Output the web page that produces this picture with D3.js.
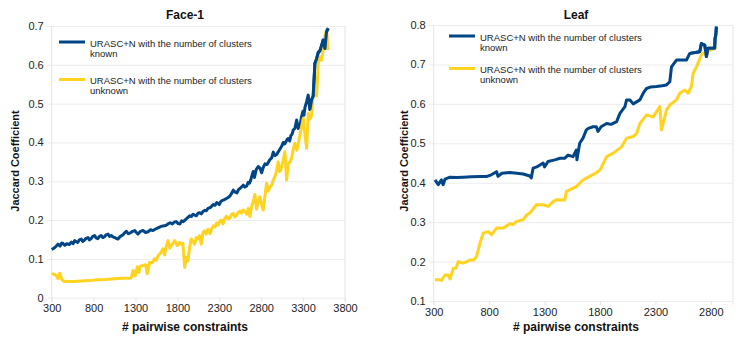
<!DOCTYPE html>
<html>
<head>
<meta charset="utf-8">
<script src="https://cdn.jsdelivr.net/npm/d3@7/dist/d3.min.js"></script>
<style>
  body { margin: 0; background: #fff; }
  svg { font-family: "Liberation Sans", Arial, sans-serif; }
  .tick text { fill: #222; font-size: 11px; }
  .title, .axis-label { font-weight: bold; fill: #111; font-size: 12px; }
  .y-label { font-size: 11px; }
  .legend text { font-size: 9.5px; fill: #222; }
</style>
</head>
<body>
<svg width="747" height="342"></svg>
<script>
// Face-1 data: [# pairwise constraints, Jaccard coefficient]
const faceKnown = [
  [300,0.124],[330,0.128],[355,0.133],[375,0.138],[400,0.133],[420,0.141],[435,0.14],[455,0.135],[480,0.139],
  [510,0.137],[534,0.143],[555,0.139],[574,0.147],[595,0.144],[610,0.142],[630,0.149],[653,0.151],[670,0.145],
  [690,0.148],[710,0.153],[733,0.155],[750,0.149],[770,0.152],[790,0.158],[813,0.16],[830,0.154],[850,0.152],
  [870,0.158],[890,0.16],[910,0.155],[930,0.157],[950,0.162],[972,0.164],[990,0.158],[1010,0.16],[1030,0.157],
  [1052,0.155],[1070,0.153],[1091,0.151],[1120,0.158],[1151,0.162],[1170,0.167],[1190,0.171],[1215,0.165],
  [1240,0.167],[1265,0.171],[1290,0.173],[1310,0.168],[1330,0.164],[1360,0.171],[1389,0.173],[1420,0.168],
  [1450,0.170],[1480,0.175],[1508,0.173],[1540,0.177],[1568,0.18],[1600,0.183],[1628,0.185],[1660,0.186],
  [1688,0.19],[1715,0.193],[1740,0.19],[1765,0.195],[1786,0.196],[1810,0.191],[1830,0.19],[1850,0.198],
  [1870,0.196],[1890,0.2],[1906,0.203],[1926,0.207],[1946,0.211],[1966,0.209],[1986,0.215],[2005,0.213],
  [2025,0.211],[2045,0.217],[2066,0.219],[2085,0.216],[2105,0.222],[2125,0.225],[2144,0.224],[2165,0.23],
  [2190,0.232],[2210,0.236],[2228,0.24],[2250,0.238],[2268,0.245],[2285,0.243],[2300,0.240],[2315,0.247],
  [2332,0.25],[2355,0.252],[2380,0.255],[2405,0.258],[2427,0.262],[2445,0.268],[2467,0.277],[2490,0.272],
  [2511,0.27],[2530,0.279],[2550,0.282],[2570,0.286],[2586,0.29],[2605,0.285],[2627,0.288],[2645,0.297],
  [2660,0.295],[2675,0.303],[2686,0.312],[2705,0.325],[2720,0.31],[2740,0.33],[2765,0.338],[2785,0.334],
  [2805,0.322],[2825,0.336],[2845,0.345],[2870,0.343],[2904,0.356],[2925,0.36],[2944,0.375],[2965,0.366],
  [2988,0.37],[3015,0.38],[3044,0.39],[3063,0.4],[3080,0.396],[3095,0.402],[3110,0.408],[3123,0.41],
  [3140,0.404],[3155,0.418],[3170,0.422],[3182,0.432],[3202,0.436],[3223,0.458],[3242,0.436],[3262,0.442],
  [3280,0.465],[3298,0.48],[3310,0.47],[3322,0.49],[3342,0.505],[3361,0.522],[3381,0.484],[3402,0.51],
  [3421,0.52],[3441,0.604],[3461,0.615],[3481,0.632],[3501,0.636],[3521,0.65],[3540,0.664],[3560,0.642],
  [3580,0.686],[3600,0.694]
];
const faceUnknown = [
  [300,0.062],[330,0.06],[355,0.057],[375,0.049],[395,0.063],[423,0.046],[450,0.042],[494,0.042],[560,0.042],
  [653,0.043],[750,0.044],[852,0.046],[950,0.047],[1052,0.049],[1150,0.05],[1250,0.051],[1270,0.07],[1297,0.057],
  [1321,0.08],[1340,0.065],[1360,0.082],[1389,0.083],[1420,0.085],[1440,0.062],[1469,0.091],[1500,0.09],
  [1529,0.10],[1550,0.097],[1568,0.108],[1600,0.115],[1628,0.126],[1648,0.11],[1665,0.13],[1688,0.147],
  [1710,0.128],[1727,0.134],[1768,0.147],[1800,0.134],[1825,0.142],[1846,0.138],[1865,0.14],[1887,0.078],
  [1906,0.104],[1926,0.095],[1946,0.13],[1965,0.151],[1985,0.145],[2006,0.138],[2025,0.155],[2045,0.151],
  [2065,0.16],[2085,0.138],[2105,0.168],[2125,0.172],[2144,0.164],[2165,0.176],[2189,0.165],[2210,0.178],
  [2228,0.185],[2248,0.182],[2268,0.192],[2288,0.188],[2308,0.198],[2325,0.2],[2344,0.19],[2365,0.204],
  [2388,0.21],[2405,0.203],[2427,0.206],[2445,0.214],[2467,0.217],[2485,0.208],[2507,0.212],[2525,0.22],
  [2547,0.223],[2565,0.218],[2586,0.226],[2605,0.222],[2627,0.215],[2645,0.23],[2666,0.209],[2685,0.235],
  [2705,0.247],[2725,0.266],[2745,0.228],[2765,0.25],[2784,0.26],[2805,0.24],[2824,0.226],[2844,0.26],
  [2864,0.295],[2884,0.275],[2904,0.285],[2925,0.29],[2944,0.303],[2960,0.31],[2976,0.32],[3003,0.35],
  [3020,0.325],[3035,0.33],[3060,0.352],[3083,0.376],[3103,0.303],[3123,0.345],[3145,0.35],[3163,0.36],
  [3185,0.385],[3202,0.398],[3226,0.38],[3245,0.4],[3262,0.42],[3282,0.44],[3302,0.462],[3322,0.42],
  [3342,0.385],[3361,0.475],[3382,0.46],[3402,0.47],[3421,0.53],[3441,0.548],[3461,0.52],[3481,0.604],
  [3501,0.621],[3521,0.612],[3540,0.64],[3560,0.672],[3580,0.69],[3600,0.638]
];

// Leaf data
const leafKnown = [
  [312,0.407],[341,0.395],[370,0.407],[385,0.395],[402,0.409],[447,0.414],[507,0.413],[567,0.414],[640,0.415],
  [717,0.416],[780,0.416],[820,0.42],[867,0.428],[880,0.416],[915,0.424],[987,0.426],[1050,0.424],[1107,0.422],
  [1167,0.417],[1180,0.412],[1197,0.437],[1230,0.44],[1287,0.45],[1300,0.44],[1332,0.454],[1392,0.458],
  [1440,0.462],[1480,0.462],[1512,0.47],[1557,0.466],[1587,0.483],[1592,0.458],[1617,0.50],[1647,0.513],
  [1677,0.534],[1695,0.538],[1737,0.542],[1767,0.542],[1782,0.53],[1810,0.542],[1860,0.55],[1900,0.548],
  [1950,0.555],[1980,0.576],[2025,0.593],[2040,0.61],[2070,0.61],[2100,0.60],[2160,0.61],[2190,0.627],
  [2220,0.639],[2260,0.643],[2310,0.644],[2360,0.646],[2400,0.648],[2430,0.656],[2445,0.694],[2490,0.711],
  [2540,0.711],[2580,0.711],[2610,0.728],[2660,0.73],[2700,0.732],[2715,0.753],[2745,0.749],[2760,0.72],
  [2775,0.741],[2800,0.741],[2835,0.741],[2838,0.766],[2845,0.775],[2850,0.796]
];
const leafUnknown = [
  [312,0.154],[350,0.154],[370,0.152],[402,0.166],[430,0.166],[447,0.156],[477,0.183],[500,0.183],[522,0.20],
  [567,0.196],[600,0.2],[627,0.204],[660,0.204],[687,0.213],[717,0.247],[747,0.272],[792,0.276],[822,0.268],
  [867,0.285],[930,0.285],[987,0.296],[1017,0.294],[1047,0.302],[1107,0.306],[1137,0.318],[1167,0.323],
  [1227,0.344],[1287,0.344],[1332,0.34],[1377,0.352],[1407,0.357],[1482,0.356],[1497,0.378],[1527,0.382],
  [1587,0.39],[1647,0.407],[1707,0.416],[1760,0.424],[1800,0.432],[1860,0.466],[1920,0.475],[1995,0.491],
  [2040,0.513],[2100,0.517],[2130,0.525],[2160,0.55],[2220,0.572],[2280,0.567],[2340,0.593],[2355,0.534],
  [2400,0.584],[2430,0.597],[2490,0.61],[2520,0.627],[2565,0.635],[2595,0.627],[2625,0.644],[2640,0.677],
  [2670,0.694],[2715,0.724],[2730,0.728],[2790,0.736],[2835,0.741],[2850,0.745]
];

const faceXTicks = [300, 800, 1300, 1800, 2300, 2800, 3300, 3800];
const faceYTicks = [0, 0.1, 0.2, 0.3, 0.4, 0.5, 0.6, 0.7];
const faceYLabels = ["0", "0.1", "0.2", "0.3", "0.4", "0.5", "0.6", "0.7"];
const leafXTicks = [300, 800, 1300, 1800, 2300, 2800];
const leafYTicks = [0.1, 0.2, 0.3, 0.4, 0.5, 0.6, 0.7, 0.8];
const leafYLabels = ["0.1", "0.2", "0.3", "0.4", "0.5", "0.6", "0.7", "0.8"];

const legendFirstLine = "URASC+N with the number of clusters";
const legendSecondLine = ["known", "unknown"];
const colors = ["#004586", "#ffd320"];

const svg = d3.select("svg");

function drawPanel(opt) {
    const x = d3.scaleLinear().domain(opt.xDomain).range([opt.left, opt.right]);
    const y = d3.scaleLinear().domain(opt.yDomain).range([opt.bottom, opt.top]);
    const g = svg.append("g");

    // horizontal grid + y labels
    const yAxis = g.append("g")
        .attr("transform", `translate(${opt.left},0)`)
        .call(d3.axisLeft(y).tickValues(opt.yTicks)
            .tickFormat((d, i) => opt.yLabels[i])
            .tickSize(0).tickPadding(8));
    yAxis.select(".domain").remove();
    yAxis.selectAll(".tick line")
        .attr("x1", -5).attr("x2", opt.right - opt.left)
        .attr("stroke", "#ececec");

    // axis line on the left and border line on the right
    g.append("line").attr("x1", opt.left).attr("x2", opt.left)
        .attr("y1", opt.top).attr("y2", opt.bottom + 4).attr("stroke", "#e4e4e4");
    g.append("line").attr("x1", opt.right).attr("x2", opt.right)
        .attr("y1", opt.top).attr("y2", opt.bottom + 4).attr("stroke", "#e4e4e4");

    const xAxis = g.append("g")
        .attr("transform", `translate(0,${opt.bottom})`)
        .call(d3.axisBottom(x).tickValues(opt.xTicks).tickFormat(d3.format("d"))
            .tickSize(4).tickPadding(3));
    xAxis.select(".domain").remove();
    xAxis.selectAll(".tick line").attr("stroke", "#e4e4e4");

    const line = d3.line().x(d => x(d[0])).y(d => y(d[1]));

    opt.series.forEach((s, i) => {
        g.append("path")
            .datum(s)
            .attr("fill", "none")
            .attr("stroke", colors[i])
            .attr("stroke-width", 3)
            .attr("stroke-linejoin", "round")
            .attr("d", line);
    });
    // known series stays visible on top where both meet at the end
    g.append("path").datum(opt.series[0].slice(-12))
        .attr("fill", "none").attr("stroke", colors[0]).attr("stroke-width", 3)
        .attr("stroke-linejoin", "round").attr("d", line);

    g.append("text").attr("class", "title")
        .attr("x", opt.titleX).attr("y", 19)
        .attr("text-anchor", "middle").text(opt.title);

    g.append("text").attr("class", "axis-label")
        .attr("x", opt.titleX).attr("y", 331)
        .attr("text-anchor", "middle").text("# pairwise constraints");

    g.append("text").attr("class", "axis-label y-label")
        .attr("transform", `translate(${opt.yLabelX},161) rotate(-90)`)
        .attr("text-anchor", "middle").attr("dy", "0.35em")
        .text("Jaccard Coefficient");

    // legend
    const leg = g.append("g").attr("class", "legend");
    opt.legendY.forEach((ly, i) => {
        leg.append("line")
            .attr("x1", opt.legendX).attr("x2", opt.legendX + 26)
            .attr("y1", ly).attr("y2", ly)
            .attr("stroke", colors[i]).attr("stroke-width", 3);
        const t = leg.append("text").attr("x", opt.legendX + 31).attr("y", ly + 4.5);
        t.append("tspan").text(legendFirstLine);
        t.append("tspan").attr("x", opt.legendX + 31).attr("dy", 10).text(legendSecondLine[i]);
    });
}

drawPanel({
    title: "Face-1", titleX: 185,
    xDomain: [300, 3800], yDomain: [0, 0.7],
    left: 51.7, right: 345, top: 26, bottom: 297.7,
    xTicks: faceXTicks, yTicks: faceYTicks, yLabels: faceYLabels,
    series: [faceKnown, faceUnknown],
    yLabelX: 15,
    legendX: 59, legendY: [42, 79.5]
});

drawPanel({
    title: "Leaf", titleX: 576,
    xDomain: [300, 3000], yDomain: [0.1, 0.8],
    left: 433.7, right: 733, top: 25, bottom: 301,
    xTicks: leafXTicks, yTicks: leafYTicks, yLabels: leafYLabels,
    series: [leafKnown, leafUnknown],
    yLabelX: 404,
    legendX: 449, legendY: [36, 68.5]
});
</script>
</body>
</html>
